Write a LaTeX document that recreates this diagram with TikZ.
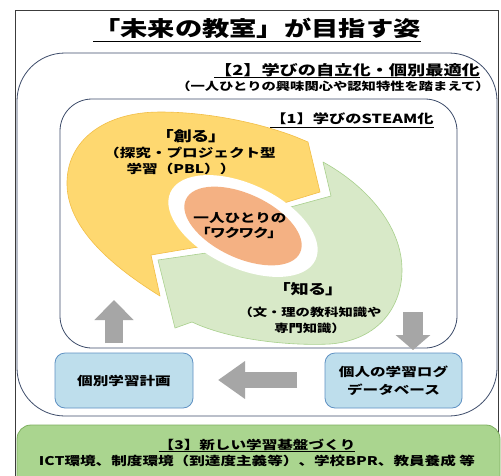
\documentclass[tikz,border=0pt]{standalone}
\usepackage{fontspec}
\setmainfont{Noto Sans CJK JP}[FakeStretch=1.3]
\usetikzlibrary{arrows.meta,shapes.geometric}
\definecolor{yel}{RGB}{254,216,112}
\definecolor{yelD}{RGB}{242,190,70}
\definecolor{grn}{RGB}{216,233,200}
\definecolor{grnD}{RGB}{168,208,140}
\definecolor{org}{RGB}{244,177,131}
\definecolor{bfill}{RGB}{190,222,236}
\definecolor{bline}{RGB}{95,145,195}
\definecolor{basefill}{RGB}{170,213,143}
\definecolor{baseline}{RGB}{125,175,95}
\definecolor{frm}{RGB}{60,60,60}
\definecolor{lvline}{RGB}{60,75,105}
\definecolor{gry}{RGB}{166,166,166}
\newcommand{\fs}[1]{\bfseries\fontsize{#1}{#1}\selectfont}
\newcommand{\palt}{\addfontfeatures{RawFeature=+palt}}
\begin{document}
\begin{tikzpicture}[x=1pt,y=-1pt,
  every node/.style={inner sep=0pt,outer sep=0pt},
  txt/.style={font=\fs{12}},
  uline/.style={line width=0.9},
  bluebox/.style={draw=bline,fill=bfill,line width=0.8,rounded corners=10,font=\bfseries\fontsize{12}{18}\selectfont,align=center},
  lvbox/.style={draw=lvline,line width=0.8},
  garrow/.style={draw=gry}]
\useasboundingbox (0,0) rectangle (501,475);
\clip (0,0) rectangle (501,475);
\fill[white] (0,0) rectangle (501,475);
% outer frame
\node[draw=frm,line width=0.9,minimum width=483,minimum height=480,anchor=north west] (frame) at (15,10) {};
% level boxes
\node[lvbox,rounded corners=48,minimum width=480,minimum height=363,anchor=north west] (lv2) at (17,53) {};
\node[lvbox,rounded corners=32,minimum width=397,minimum height=249,anchor=north west] (lv1) at (60,99) {};
% title
\node[font=\fs{21}] (title) at (257,28) {「未来の教室」が目指す姿};
\draw[uline] ([yshift=-3pt]title.south west) -- ([yshift=-3pt]title.south east);
\node[font=\fs{14}] (h2) at (347,70) {【2】学びの自立化・個別最適化};
\draw[uline] ([yshift=-1pt]h2.south west) -- ([yshift=-1pt]h2.south east);
\node[font=\fs{11}] (s2) at (333,86) {（一人ひとりの興味関心や認知特性を踏まえて）};
\node[font=\fs{12.5}] (h1) at (352,119) {【1】学びのSTEAM化};
\draw[uline] ([yshift=-2pt]h1.south west) -- ([yshift=-2pt]h1.south east);
% yellow arrow
\draw[draw=yelD,fill=yel,line width=0.6,line join=round]
 (151,255) -- (160,296)
 .. controls (105,262) and (68,225) .. (67,185)
 .. controls (66,140) and (105,112) .. (160,112)
 .. controls (215,112) and (268,126) .. (296,137)
 -- (308,142)
 -- (320,192) -- (284,203)
 .. controls (240,185) and (195,195) .. (190,215)
 .. controls (185,235) and (195,245) .. (210,245) -- cycle;
% green arrow
\draw[draw=grnD,fill=grn,line width=0.6,line join=round]
 (323,162) -- (331,196) -- (287,208)
 .. controls (330,240) and (280,262) .. (213,252)
 -- (158,260) -- (175,328) -- (192,322)
 .. controls (230,340) and (290,346) .. (330,344)
 .. controls (380,340) and (402,305) .. (402,270)
 .. controls (402,225) and (365,185) .. (323,162) -- cycle;
% center
\node[ellipse,fill=white,minimum width=160,minimum height=84,rotate=-25] (ring) at (243,226) {};
\node[ellipse,fill=org,minimum width=126,minimum height=64,rotate=-25] (core) at (243,226) {};
\node[txt] (w1) at (240,218) {一人ひとりの};
\node[txt] (w2) at (239,233) {\palt「ワクワク」};
% yellow texts
\node[font=\fs{14}] (tsukuru) at (191,136) {\palt「創る」};
\node[txt] (tankyu) at (190,153) {（探究・プロジェクト型};
\node[txt] (pbl) at (181,169) {学習（PBL））};
% green texts
\node[font=\fs{14}] (shiru) at (308,289) {\palt「知る」};
\node[font=\fs{11}] (bun) at (310,312) {（文・理の教科知識や};
\node[font=\fs{11}] (senmon) at (310,328) {専門知識）};
% blue boxes
\node[bluebox,minimum width=138,minimum height=55] (plan) at (124,380.5) {個別学習計画};
\node[bluebox,minimum width=137,minimum height=55] (log) at (393.5,380.5) {個人の学習ログ\\データベース};
% gray arrows
\coordinate (upS) at (114,343); \coordinate (upT) at (114,300);
\coordinate (dnS) at (413,312); \coordinate (dnT) at (413,350);
\coordinate (lfS) at (297,380); \coordinate (lfT) at (218,380);
\draw[garrow,line width=18,-{Triangle[width=38pt,length=20pt]}] (upS) -- (upT);
\draw[garrow,line width=20,-{Triangle[width=34pt,length=15pt]}] (dnS) -- (dnT);
\draw[garrow,line width=16,-{Triangle[width=36pt,length=27pt]}] (lfS) -- (lfT);
% base box
\node[draw=baseline,fill=basefill,line width=0.8,rounded corners=14,minimum width=483,minimum height=70,anchor=north west] (base) at (17,425) {};
\node[txt] (b1) at (257,445) {【3】新しい学習基盤づくり};
\draw[uline] ([yshift=-1pt]b1.south west) -- ([yshift=-1pt]b1.south east);
\node[txt] (b2) at (257,461) {ICT環境、制度環境（到達度主義等）、学校BPR、教員養成 等};
\end{tikzpicture}
\end{document}
